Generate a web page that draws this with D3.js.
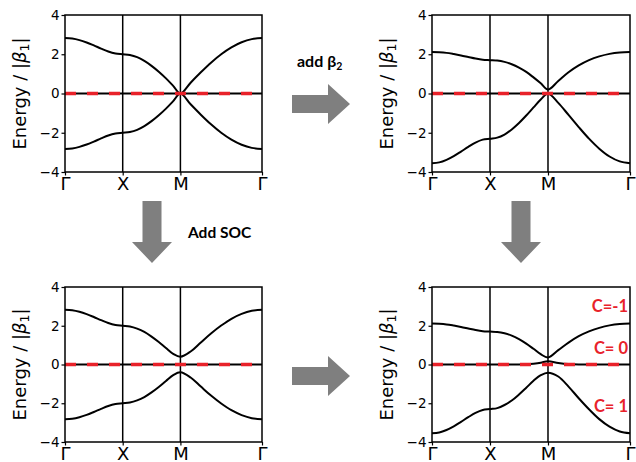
<!DOCTYPE html>
<html>
<head>
<meta charset="utf-8">
<script src="https://cdn.jsdelivr.net/npm/d3@7"></script>
<style>
 body { margin: 0; background: #fff; }
 svg { display: block; }
</style>
</head>
<body>
<script>
// k-path: Γ -> X -> M -> Γ (path length units)
var kPath = [0, 0.125, 0.25, 0.375, 0.5, 0.625, 0.75, 0.875, 1,
  1.125, 1.25, 1.375, 1.5, 1.625, 1.75, 1.875, 2,
  2.177, 2.354, 2.530, 2.707, 2.884, 3.061, 3.237, 3.414];
var kTickPos = [0, 1, 2, 3.414];
var kTickLabels = ["Γ", "X", "M", "Γ"];
var energyTicks = [-4, -2, 0, 2, 4];

// panel A : beta1 only
var bandA_up = [2.83, 2.80, 2.72, 2.60, 2.45, 2.29, 2.14, 2.04, 2.00,
  1.96, 1.85, 1.66, 1.41, 1.11, 0.77, 0.39, 0.00,
  0.55, 1.08, 1.57, 2.00, 2.35, 2.61, 2.77, 2.83];
var bandA_flat = [0, 0, 0, 0, 0, 0, 0, 0, 0, 0, 0, 0, 0, 0, 0, 0, 0, 0, 0, 0, 0, 0, 0, 0, 0];
var bandA_dn = [-2.83, -2.80, -2.72, -2.60, -2.45, -2.29, -2.14, -2.04, -2.00,
  -1.96, -1.85, -1.66, -1.41, -1.11, -0.77, -0.39, 0.00,
  -0.55, -1.08, -1.57, -2.00, -2.35, -2.61, -2.77, -2.83];

// panel B : add beta2
var bandB_up = [2.11, 2.10, 2.07, 2.01, 1.94, 1.86, 1.78, 1.72, 1.70,
  1.68, 1.61, 1.49, 1.32, 1.10, 0.82, 0.52, 0.20,
  0.64, 1.08, 1.43, 1.70, 1.89, 2.02, 2.09, 2.11];
var bandB_flat = [0, 0, 0, 0, 0, 0, 0, 0, 0, 0, 0, 0, 0, 0, 0, 0, 0, 0, 0, 0, 0, 0, 0, 0, 0];
var bandB_dn = [-3.55, -3.51, -3.38, -3.19, -2.96, -2.72, -2.50, -2.35, -2.30,
  -2.25, -2.09, -1.83, -1.50, -1.12, -0.71, -0.31, 0.00,
  -0.48, -1.09, -1.71, -2.30, -2.81, -3.21, -3.46, -3.55];

// panel C : add SOC
var bandC_up = [2.83, 2.80, 2.72, 2.60, 2.45, 2.29, 2.14, 2.04, 2.00,
  1.96, 1.85, 1.68, 1.44, 1.16, 0.85, 0.55, 0.40,
  0.67, 1.14, 1.60, 2.01, 2.36, 2.61, 2.77, 2.83];
var bandC_flat = [0, 0, 0, 0, 0, 0, 0, 0, 0, 0, 0, 0, 0, 0, 0, 0, 0, 0, 0, 0, 0, 0, 0, 0, 0];
var bandC_dn = [-2.83, -2.80, -2.72, -2.60, -2.45, -2.29, -2.14, -2.04, -2.00,
  -1.96, -1.85, -1.68, -1.44, -1.16, -0.85, -0.55, -0.40,
  -0.67, -1.14, -1.60, -2.01, -2.36, -2.61, -2.77, -2.83];

// panel D : beta2 + SOC
var bandD_up = [2.11, 2.10, 2.07, 2.01, 1.94, 1.86, 1.78, 1.72, 1.70,
  1.68, 1.61, 1.49, 1.31, 1.08, 0.81, 0.53, 0.36,
  0.74, 1.13, 1.46, 1.71, 1.89, 2.02, 2.09, 2.11];
var bandD_mid = [0, 0, 0, 0, 0, 0, 0, 0, 0,
  0, 0, 0, 0, 0.01, 0.04, 0.09, 0.17,
  0.08, 0.02, 0, 0, 0, 0, 0, 0];
var bandD_dn = [-3.55, -3.51, -3.38, -3.19, -2.96, -2.72, -2.50, -2.35, -2.30,
  -2.25, -2.09, -1.86, -1.55, -1.20, -0.84, -0.55, -0.42,
  -0.62, -1.14, -1.74, -2.31, -2.82, -3.21, -3.46, -3.55];

var chernLabels = ["C=-1", "C= 0", "C= 1"];
var chernE = [3.0, 0.84, -2.15];

var svg = d3.select("body").append("svg")
 .attr("width", 636)
 .attr("height", 462);

var panels = [
 { left: 65, right: 262, top: 15, bottom: 172, bands: [bandA_up, bandA_flat, bandA_dn] },
 { left: 432, right: 630, top: 15, bottom: 172, bands: [bandB_up, bandB_flat, bandB_dn] },
 { left: 65, right: 262, top: 287, bottom: 442, bands: [bandC_up, bandC_flat, bandC_dn] },
 { left: 432, right: 630, top: 287, bottom: 442, bands: [bandD_up, bandD_mid, bandD_dn], chern: true }
];

panels.forEach(function(p) {
 var x = d3.scaleLinear().domain([0, kTickPos[3]]).range([p.left, p.right]);
 var y = d3.scaleLinear().domain([-4, 4]).range([p.bottom, p.top]);
 var g = svg.append("g");

 // bottom axis (high-symmetry points)
 var ax = g.append("g")
  .attr("transform", "translate(0," + p.bottom + ")")
  .call(d3.axisBottom(x).tickValues(kTickPos)
   .tickFormat(function(d, i) { return kTickLabels[i]; })
   .tickSize(3.5).tickPadding(2));
 ax.select(".domain").remove();
 ax.selectAll("line").attr("stroke", "#000").attr("stroke-width", 1.2);
 ax.selectAll("text")
  .attr("font-family", "DejaVu Sans")
  .attr("font-size", "18px")
  .attr("fill", "#000");

 // left axis
 var ay = g.append("g")
  .attr("transform", "translate(" + p.left + ",0)")
  .call(d3.axisLeft(y).tickValues(energyTicks).tickSize(3.5).tickPadding(2));
 ay.select(".domain").remove();
 ay.selectAll("line").attr("stroke", "#000").attr("stroke-width", 1.2);
 ay.selectAll("text")
  .attr("font-family", "DejaVu Sans")
  .attr("font-size", "13.5px")
  .attr("fill", "#000");

 // y label
 var lab = g.append("text")
  .attr("transform", "translate(" + (p.left - 39) + "," + ((p.top + p.bottom) / 2) + ") rotate(-90)")
  .attr("text-anchor", "middle")
  .attr("font-family", "DejaVu Sans")
  .attr("font-size", "18px")
  .attr("fill", "#000");
 lab.append("tspan").text("Energy / |");
 lab.append("tspan").attr("font-style", "italic").text("β");
 lab.append("tspan").attr("font-size", "12.5px").attr("dy", 3).text("1");
 lab.append("tspan").attr("dy", -3).text("|");

 // vertical lines at X and M
 g.selectAll(".kline")
  .data(kTickPos.slice(1, 3))
  .enter()
  .append("line")
  .attr("x1", function(d) { return x(d); })
  .attr("x2", function(d) { return x(d); })
  .attr("y1", p.top)
  .attr("y2", p.bottom)
  .attr("stroke", "#000")
  .attr("stroke-width", 1.5);

 // bands
 var line = d3.line()
  .x(function(d, i) { return x(kPath[i]); })
  .y(function(d) { return y(d); })
  .curve(d3.curveCatmullRom.alpha(0.5));

 g.selectAll(".band")
  .data(p.bands)
  .enter()
  .append("path")
  .attr("d", line)
  .attr("fill", "none")
  .attr("stroke", "#000")
  .attr("stroke-width", 2);

 // Fermi level
 g.append("line")
  .attr("x1", x(0)).attr("x2", x(kTickPos[3]))
  .attr("y1", y(0)).attr("y2", y(0))
  .attr("stroke", "#e8222a")
  .attr("stroke-width", 3.5)
  .attr("stroke-dasharray", "11,11");

 // frame
 g.append("rect")
  .attr("x", p.left).attr("y", p.top)
  .attr("width", p.right - p.left).attr("height", p.bottom - p.top)
  .attr("fill", "none")
  .attr("stroke", "#000")
  .attr("stroke-width", 1.5);

 if (p.chern) {
  g.selectAll(".chern")
   .data(chernLabels)
   .enter()
   .append("text")
   .text(function(d) { return d; })
   .attr("x", p.right - 2)
   .attr("y", function(d, i) { return y(chernE[i]); })
   .attr("dy", "0.35em")
   .attr("text-anchor", "end")
   .attr("font-family", "Lato")
   .attr("font-weight", "bold")
   .attr("font-size", "16.5px")
   .attr("fill", "#e8222a");
 }
});

// gray arrows between panels
var arrowGray = "#7f7f7f";
function rightArrow(cy) {
 var pts = [[292, cy - 9], [328, cy - 9], [328, cy - 20], [350, cy], [328, cy + 20], [328, cy + 9], [292, cy + 9]];
 svg.append("path").attr("d", d3.line()(pts) + "Z").attr("fill", arrowGray);
}
function downArrow(cx) {
 var pts = [[cx - 9.5, 201], [cx + 9.5, 201], [cx + 9.5, 242], [cx + 20, 242], [cx, 263], [cx - 20, 242], [cx - 9.5, 242]];
 svg.append("path").attr("d", d3.line()(pts) + "Z").attr("fill", arrowGray);
}
rightArrow(104);
rightArrow(376);
downArrow(152);
downArrow(521);

var t1 = svg.append("text")
 .attr("x", 297).attr("y", 67)
 .attr("font-family", "Lato")
 .attr("font-weight", "bold")
 .attr("font-size", "16px")
 .attr("fill", "#000");
t1.append("tspan").text("add β");
t1.append("tspan").attr("font-size", "10.5px").attr("dy", 3).text("2");

svg.append("text")
 .attr("x", 188).attr("y", 238)
 .attr("font-family", "Lato")
 .attr("font-weight", "bold")
 .attr("font-size", "15.5px")
 .attr("fill", "#000")
 .text("Add SOC");
</script>
</body>
</html>
